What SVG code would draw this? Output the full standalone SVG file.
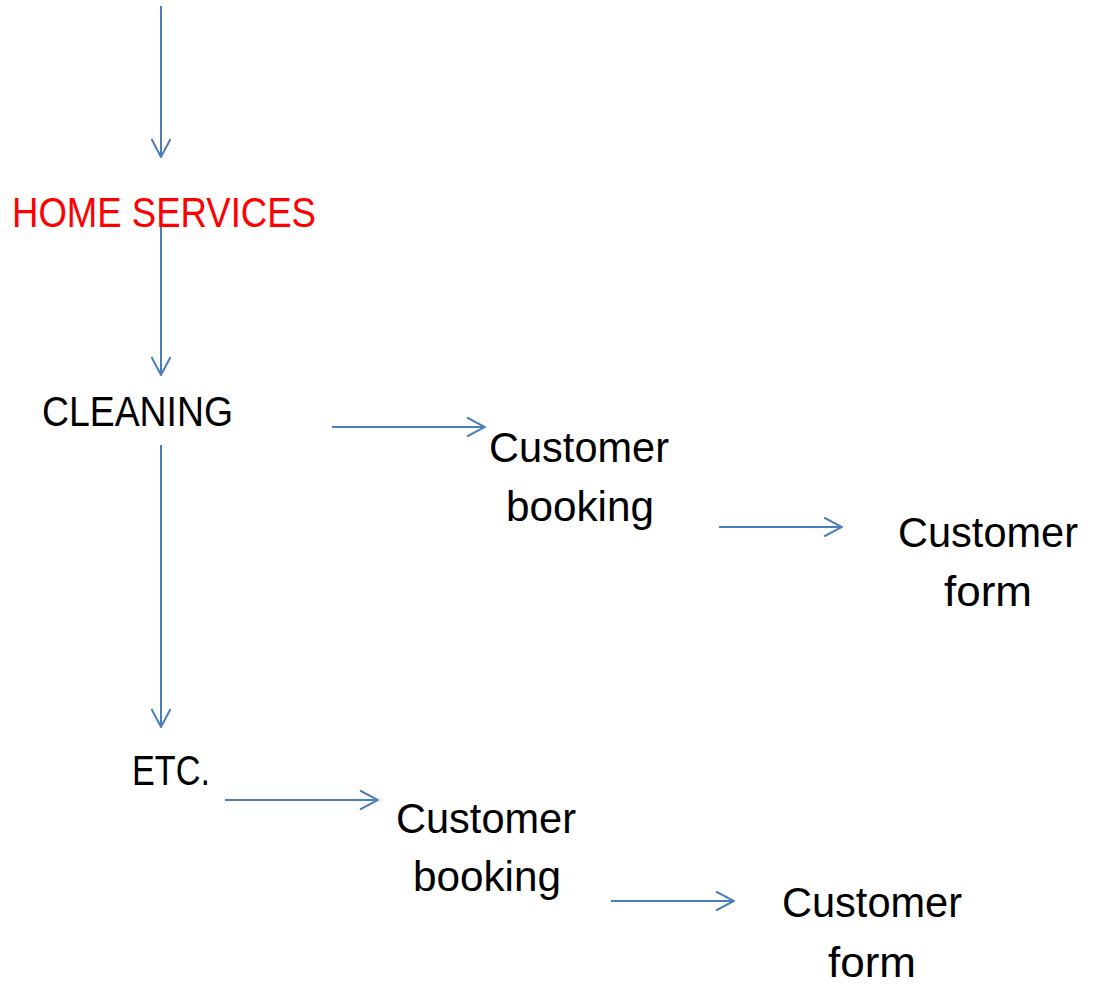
<svg xmlns="http://www.w3.org/2000/svg" width="1095" height="986" viewBox="0 0 1095 986">
  <defs>
    <marker id="arr" viewBox="0 0 20 20" refX="19" refY="10" markerWidth="20" markerHeight="20" markerUnits="userSpaceOnUse" orient="auto">
      <path d="M1,0.5 L19,10 L1,19.5" fill="none" stroke="#4a7ebb" stroke-width="2"/>
    </marker>
    <style>
      .c { stroke: #4a7ebb; stroke-width: 2; fill: none; marker-end: url(#arr); }
      .t { font-family: "Liberation Sans", Arial, sans-serif; font-size: 42px; fill: #000; }
      .red { fill: #ff0000; }
    </style>
  </defs>
  <rect width="1095" height="986" fill="#ffffff"/>
  <g id="connectors">
    <line class="c" x1="161" y1="6" x2="161" y2="157"/>
    <line class="c" x1="161" y1="227" x2="161" y2="375"/>
    <line class="c" x1="161" y1="445" x2="161" y2="727"/>
    <line class="c" x1="332" y1="427" x2="485" y2="427"/>
    <line class="c" x1="719" y1="527" x2="842" y2="527"/>
    <line class="c" x1="225" y1="800" x2="378" y2="800"/>
    <line class="c" x1="611" y1="901" x2="734" y2="901"/>
  </g>
  <g id="home-services">
    <text class="t red" x="12" y="227" textLength="304" lengthAdjust="spacingAndGlyphs">HOME SERVICES</text>
  </g>
  <g id="cleaning">
    <text class="t" x="42" y="426" textLength="191" lengthAdjust="spacingAndGlyphs">CLEANING</text>
  </g>
  <g id="booking-1">
    <text class="t" x="489" y="462" textLength="180" lengthAdjust="spacingAndGlyphs">Customer</text>
    <text class="t" x="506" y="521" textLength="148" lengthAdjust="spacingAndGlyphs">booking</text>
  </g>
  <g id="form-1">
    <text class="t" x="898" y="547" textLength="180" lengthAdjust="spacingAndGlyphs">Customer</text>
    <text class="t" x="944" y="606" textLength="88" lengthAdjust="spacingAndGlyphs">form</text>
  </g>
  <g id="etc">
    <text class="t" x="132" y="785" textLength="78" lengthAdjust="spacingAndGlyphs">ETC.</text>
  </g>
  <g id="booking-2">
    <text class="t" x="396" y="833" textLength="180" lengthAdjust="spacingAndGlyphs">Customer</text>
    <text class="t" x="413" y="891" textLength="148" lengthAdjust="spacingAndGlyphs">booking</text>
  </g>
  <g id="form-2">
    <text class="t" x="782" y="917" textLength="180" lengthAdjust="spacingAndGlyphs">Customer</text>
    <text class="t" x="828" y="977" textLength="88" lengthAdjust="spacingAndGlyphs">form</text>
  </g>
</svg>
